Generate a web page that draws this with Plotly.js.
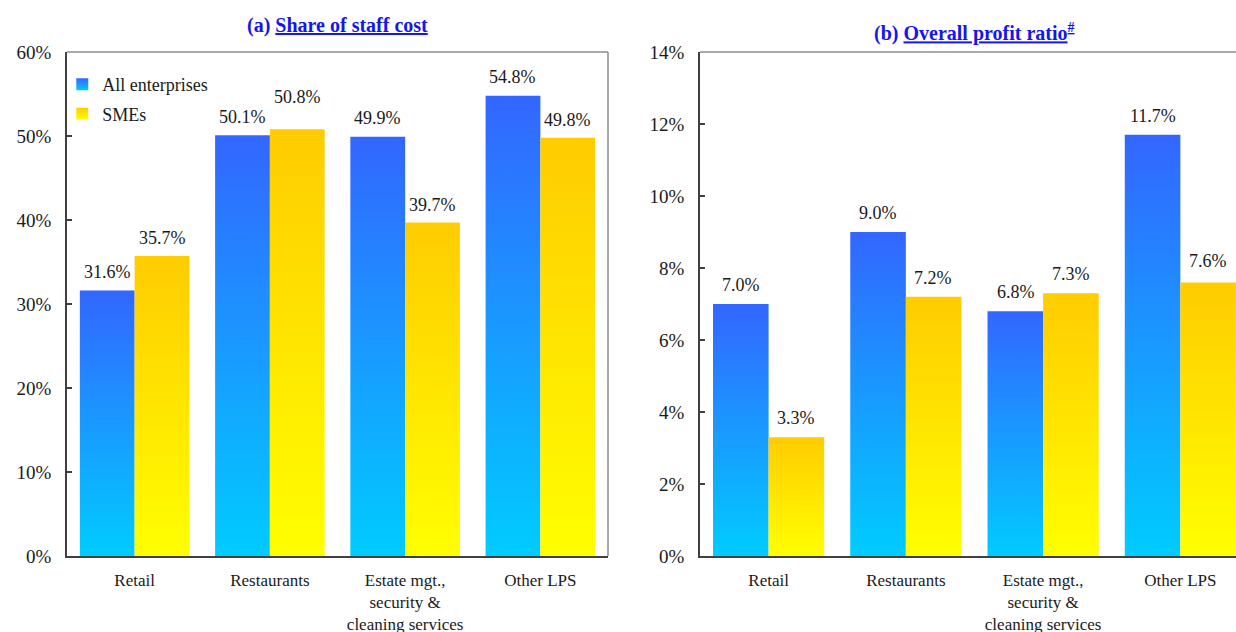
<!DOCTYPE html>
<html>
<head>
<meta charset="utf-8">
<script src="https://cdn.plot.ly/plotly-3.0.1.min.js"></script>
<style>
html,body{margin:0;padding:0;overflow:hidden;background:#fff;}
#chart{width:1250px;height:632px;}
#defs{position:absolute;left:0;top:0;width:0;height:0;}
</style>
</head>
<body>
<svg id="defs" width="0" height="0">
  <defs>
    <linearGradient id="gBlue" x1="0" y1="0" x2="0" y2="1">
      <stop offset="0" stop-color="#3366FF"/>
      <stop offset="1" stop-color="#00CCFF"/>
    </linearGradient>
    <linearGradient id="gYellow" x1="0" y1="0" x2="0" y2="1">
      <stop offset="0" stop-color="#FFCC00"/>
      <stop offset="1" stop-color="#FFFF00"/>
    </linearGradient>
  </defs>
</svg>
<div id="chart"></div>
<script>
// ---- data ----
const categories = ['Retail', 'Restaurants', 'Estate mgt.,<br>security &amp;<br>cleaning services', 'Other LPS'];
const seriesNames = ['All enterprises', 'SMEs'];
const staffAll = [31.6, 50.1, 49.9, 54.8];
const staffSME = [35.7, 50.8, 39.7, 49.8];
const profitAll = [7.0, 9.0, 6.8, 11.7];
const profitSME = [3.3, 7.2, 7.3, 7.6];
const titleA = '<b>(a) <span style="text-decoration:underline">Share of staff cost</span></b>';
const titleB = '<b>(b) <span style="text-decoration:underline">Overall profit ratio<sup>#</sup></span></b>';

// ---- style ----
const serif = 'Liberation Serif';
const blue = '#3366FF', yellow = '#FFCC00';
const axisCol = '#404040', frameCol = '#8c8c8c';
const halfBar = 27.5;
// label lift above bar tops (px): [chart][series][category]
const lift = [[[19, 18, 19, 19], [18, 32, 18, 18]], [[19, 19, 19, 19], [19, 19, 19, 21]]];

function bar(name, y, color, xa, ya, show) {
  return {type: 'bar', name: name, x: categories, y: y, xaxis: xa, yaxis: ya,
    marker: {color: color, line: {width: 0}}, showlegend: show, legendgroup: name,
    hoverinfo: 'none'};
}
const data = [
  bar(seriesNames[0], staffAll, blue, 'x', 'y', true),
  bar(seriesNames[1], staffSME, yellow, 'x', 'y', true),
  bar(seriesNames[0], profitAll, blue, 'x2', 'y2', false),
  bar(seriesNames[1], profitSME, yellow, 'x2', 'y2', false)
];

const annotations = [];
const sets = [[staffAll, staffSME, 'x', 'y'], [profitAll, profitSME, 'x2', 'y2']];
sets.forEach((s, ci) => {
  [s[0], s[1]].forEach((vals, si) => {
    vals.forEach((v, k) => {
      annotations.push({x: categories[k], y: v, xref: s[2], yref: s[3],
        text: v.toFixed(1) + '%', showarrow: false, xanchor: 'center', yanchor: 'middle',
        xshift: si === 0 ? -halfBar : halfBar, yshift: lift[ci][si][k],
        font: {family: serif, size: 18, color: '#1a1a1a'}});
    });
  });
});
annotations.push({text: titleA, xref: 'x domain', yref: 'y domain', x: 0.5, y: 1, yshift: 27,
  showarrow: false, xanchor: 'center', yanchor: 'middle', font: {family: serif, size: 20, color: '#1515EE'}});
annotations.push({text: titleB, xref: 'x2 domain', yref: 'y2 domain', x: 0.5, y: 1, yshift: 20,
  showarrow: false, xanchor: 'center', yanchor: 'middle', font: {family: serif, size: 20, color: '#1515EE'}});

function frame(xr, yr) {
  return [
    {type: 'line', xref: xr + ' domain', yref: yr + ' domain', x0: 0, x1: 1, y0: 1, y1: 1, line: {color: frameCol, width: 1.5}},
    {type: 'line', xref: xr + ' domain', yref: yr + ' domain', x0: 1, x1: 1, y0: 0, y1: 1, line: {color: frameCol, width: 1.5}}
  ];
}

const xCommon = {type: 'category', showline: true, linecolor: axisCol, linewidth: 1.5, ticks: '',
  tickfont: {family: serif, size: 17, color: '#1a1a1a'}, ticklabelstandoff: 8,
  showgrid: false, zeroline: false, fixedrange: true};
const yCommon = {showline: true, linecolor: axisCol, linewidth: 1.5, ticks: 'inside', ticklen: 5,
  tickcolor: axisCol, tickwidth: 1.5, ticksuffix: '%', showgrid: false, zeroline: false,
  tickfont: {family: serif, size: 19, color: '#1a1a1a'}, ticklabelstandoff: 10, fixedrange: true};

const layout = {
  width: 1250, height: 632,
  font: {family: serif},
  margin: {l: 67, r: 1, t: 52, b: 76},
  paper_bgcolor: '#fff', plot_bgcolor: '#fff',
  barmode: 'group', bargap: 0.19, bargroupgap: 0,
  xaxis: Object.assign({}, xCommon, {domain: [0, 0.4577], anchor: 'y'}),
  yaxis: Object.assign({}, yCommon, {range: [0, 60], dtick: 10, anchor: 'x'}),
  xaxis2: Object.assign({}, xCommon, {domain: [0.5355, 1], anchor: 'y2'}),
  yaxis2: Object.assign({}, yCommon, {range: [0, 14], dtick: 2, anchor: 'x2'}),
  showlegend: true,
  legend: {x: -0.004, y: 0.972, xanchor: 'left', yanchor: 'top', bgcolor: 'rgba(0,0,0,0)',
    font: {family: serif, size: 18, color: '#1a1a1a'}, traceorder: 'grouped', tracegroupgap: 3,
    itemwidth: 30, itemclick: false, itemdoubleclick: false},
  annotations: annotations,
  shapes: frame('x', 'y').concat(frame('x2', 'y2'))
};

function applyGradients() {
  const pick = (name) => name === seriesNames[0] ? 'url(#gBlue)' : 'url(#gYellow)';
  document.querySelectorAll('.barlayer .trace').forEach(g => {
    const d = g.__data__; let tr = d && d[0] && d[0].trace;
    if (!tr) return;
    g.querySelectorAll('path').forEach(p => { p.style.fill = pick(tr.name); });
  });
  document.querySelectorAll('.legend .traces').forEach(g => {
    const d = g.__data__; let tr = d && d[0] && d[0].trace;
    if (!tr) return;
    g.querySelectorAll('.legendpoints path').forEach(p => { p.style.fill = pick(tr.name); });
  });
}

Plotly.newPlot('chart', data, layout, {displayModeBar: false}).then(applyGradients);
</script>
</body>
</html>
